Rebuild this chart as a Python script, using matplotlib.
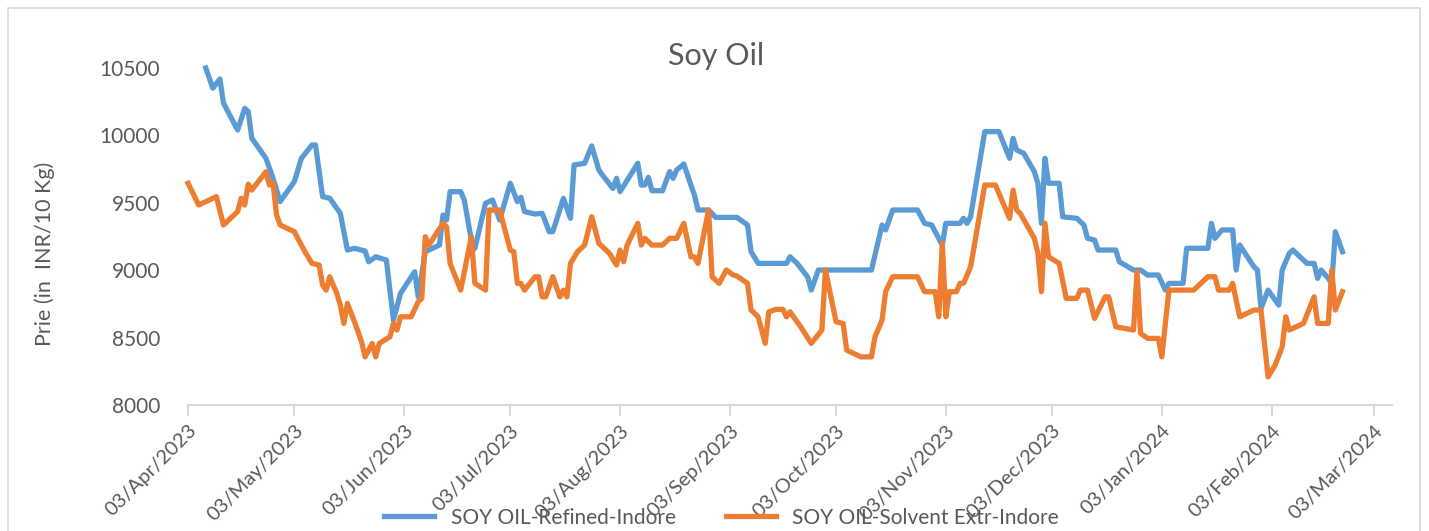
import matplotlib
matplotlib.use("Agg")
import matplotlib.pyplot as plt
import matplotlib.dates as mdates
from matplotlib.patches import Rectangle
import pandas as pd

plt.rcParams["font.family"] = ["Lato", "DejaVu Sans"]

REFINED_DATES = [
    "2023-04-08", "2023-04-10", "2023-04-12", "2023-04-13", "2023-04-17", "2023-04-19",
    "2023-04-20", "2023-04-21", "2023-04-25", "2023-04-27", "2023-04-29", "2023-05-03",
    "2023-05-05", "2023-05-08", "2023-05-09", "2023-05-11", "2023-05-13", "2023-05-16",
    "2023-05-18", "2023-05-20", "2023-05-23", "2023-05-24", "2023-05-26", "2023-05-29",
    "2023-05-31", "2023-06-02", "2023-06-06", "2023-06-07", "2023-06-09", "2023-06-13",
    "2023-06-14", "2023-06-15", "2023-06-16", "2023-06-19", "2023-06-20", "2023-06-22",
    "2023-06-23", "2023-06-26", "2023-06-27", "2023-06-28", "2023-06-30", "2023-07-03",
    "2023-07-05", "2023-07-06", "2023-07-07", "2023-07-10", "2023-07-12", "2023-07-14",
    "2023-07-15", "2023-07-18", "2023-07-20", "2023-07-21", "2023-07-24", "2023-07-26",
    "2023-07-28", "2023-07-29", "2023-08-01", "2023-08-02", "2023-08-03", "2023-08-08",
    "2023-08-09", "2023-08-10", "2023-08-11", "2023-08-12", "2023-08-15", "2023-08-17",
    "2023-08-18", "2023-08-19", "2023-08-21", "2023-08-23", "2023-08-24", "2023-08-25",
    "2023-08-28", "2023-08-30", "2023-09-05", "2023-09-08", "2023-09-09", "2023-09-11",
    "2023-09-19", "2023-09-20", "2023-09-22", "2023-09-25", "2023-09-26", "2023-09-28",
    "2023-10-13", "2023-10-16", "2023-10-17", "2023-10-19", "2023-10-26", "2023-10-28",
    "2023-10-30", "2023-11-02", "2023-11-03", "2023-11-07", "2023-11-08", "2023-11-09",
    "2023-11-10", "2023-11-14", "2023-11-18", "2023-11-21", "2023-11-22", "2023-11-23",
    "2023-11-25", "2023-11-28", "2023-11-29", "2023-11-30", "2023-12-01", "2023-12-02",
    "2023-12-05", "2023-12-06", "2023-12-10", "2023-12-12", "2023-12-13", "2023-12-15",
    "2023-12-16", "2023-12-21", "2023-12-22", "2023-12-26", "2023-12-28", "2023-12-30",
    "2024-01-02", "2024-01-04", "2024-01-05", "2024-01-09", "2024-01-10", "2024-01-16",
    "2024-01-17", "2024-01-18", "2024-01-20", "2024-01-23", "2024-01-24", "2024-01-25",
    "2024-01-29", "2024-01-30", "2024-01-31", "2024-02-02", "2024-02-05", "2024-02-06",
    "2024-02-08", "2024-02-09", "2024-02-13", "2024-02-15", "2024-02-16", "2024-02-17",
    "2024-02-19", "2024-02-20", "2024-02-21", "2024-02-23",
]
REFINED = [
    10500, 10350, 10419, 10239, 10040, 10201,
    10176, 9979, 9830, 9682, 9509, 9657,
    9830, 9929, 9929, 9546, 9534, 9422,
    9150, 9163, 9143, 9063, 9100, 9076,
    8631, 8829, 8989, 8803, 9138, 9187,
    9410, 9373, 9583, 9583, 9521, 9224,
    9163, 9496, 9509, 9521, 9373, 9645,
    9509, 9541, 9435, 9417, 9422, 9286,
    9286, 9533, 9385, 9781, 9793, 9922,
    9744, 9707, 9607, 9682, 9583, 9793,
    9632, 9632, 9689, 9590, 9590, 9732,
    9682, 9744, 9788, 9632, 9558, 9447,
    9447, 9392, 9392, 9336, 9138, 9051,
    9051, 9100, 9051, 8950, 8853, 9002,
    9002, 9336, 9299, 9447, 9447, 9348,
    9336, 9187, 9348, 9348, 9385, 9348,
    9397, 10028, 10028, 9830, 9978, 9892,
    9867, 9731, 9645, 9348, 9830, 9645,
    9645, 9397, 9385, 9336, 9237, 9224,
    9150, 9150, 9063, 9002, 9002, 8965,
    8965, 8853, 8903, 8903, 9163, 9163,
    9348, 9237, 9299, 9299, 9002, 9187,
    9026, 9002, 8717, 8853, 8742, 9002,
    9126, 9150, 9051, 9051, 8940, 9002,
    8940, 8903, 9286, 9138,
]

SOLVENT_DATES = [
    "2023-04-03", "2023-04-06", "2023-04-11", "2023-04-13", "2023-04-17", "2023-04-18",
    "2023-04-19", "2023-04-20", "2023-04-21", "2023-04-25", "2023-04-26", "2023-04-27",
    "2023-04-28", "2023-04-29", "2023-05-03", "2023-05-06", "2023-05-08", "2023-05-10",
    "2023-05-11", "2023-05-12", "2023-05-13", "2023-05-15", "2023-05-16", "2023-05-17",
    "2023-05-18", "2023-05-20", "2023-05-22", "2023-05-23", "2023-05-25", "2023-05-26",
    "2023-05-27", "2023-05-30", "2023-05-31", "2023-06-01", "2023-06-02", "2023-06-05",
    "2023-06-07", "2023-06-08", "2023-06-09", "2023-06-10", "2023-06-14", "2023-06-15",
    "2023-06-16", "2023-06-19", "2023-06-22", "2023-06-23", "2023-06-26", "2023-06-27",
    "2023-06-30", "2023-07-03", "2023-07-04", "2023-07-05", "2023-07-06", "2023-07-07",
    "2023-07-10", "2023-07-11", "2023-07-12", "2023-07-13", "2023-07-15", "2023-07-17",
    "2023-07-18", "2023-07-19", "2023-07-20", "2023-07-22", "2023-07-24", "2023-07-26",
    "2023-07-28", "2023-07-29", "2023-07-31", "2023-08-02", "2023-08-03", "2023-08-04",
    "2023-08-05", "2023-08-08", "2023-08-09", "2023-08-10", "2023-08-12", "2023-08-15",
    "2023-08-17", "2023-08-19", "2023-08-21", "2023-08-23", "2023-08-24", "2023-08-25",
    "2023-08-28", "2023-08-29", "2023-08-31", "2023-09-02", "2023-09-04", "2023-09-05",
    "2023-09-08", "2023-09-09", "2023-09-11", "2023-09-13", "2023-09-14", "2023-09-16",
    "2023-09-18", "2023-09-19", "2023-09-20", "2023-09-23", "2023-09-26", "2023-09-29",
    "2023-09-30", "2023-10-03", "2023-10-05", "2023-10-06", "2023-10-10", "2023-10-13",
    "2023-10-14", "2023-10-16", "2023-10-17", "2023-10-19", "2023-10-26", "2023-10-28",
    "2023-10-31", "2023-11-01", "2023-11-02", "2023-11-03", "2023-11-04", "2023-11-06",
    "2023-11-07", "2023-11-08", "2023-11-10", "2023-11-14", "2023-11-17", "2023-11-21",
    "2023-11-22", "2023-11-23", "2023-11-24", "2023-11-28", "2023-11-29", "2023-11-30",
    "2023-12-01", "2023-12-02", "2023-12-05", "2023-12-07", "2023-12-10", "2023-12-11",
    "2023-12-13", "2023-12-15", "2023-12-18", "2023-12-19", "2023-12-21", "2023-12-26",
    "2023-12-27", "2023-12-28", "2023-12-30", "2024-01-02", "2024-01-03", "2024-01-05",
    "2024-01-12", "2024-01-16", "2024-01-18", "2024-01-19", "2024-01-22", "2024-01-23",
    "2024-01-25", "2024-01-29", "2024-01-31", "2024-02-02", "2024-02-04", "2024-02-06",
    "2024-02-07", "2024-02-08", "2024-02-12", "2024-02-15", "2024-02-16", "2024-02-19",
    "2024-02-20", "2024-02-21", "2024-02-23",
]
SOLVENT = [
    9645, 9484, 9546, 9336, 9435, 9534,
    9484, 9638, 9595, 9731, 9632, 9645,
    9410, 9336, 9286, 9138, 9051, 9039,
    8890, 8853, 8952, 8829, 8742, 8606,
    8754, 8618, 8470, 8358, 8458, 8358,
    8458, 8507, 8606, 8557, 8655, 8655,
    8767, 8792, 9249, 9187, 9348, 9323,
    9051, 8853, 9249, 8903, 8853, 9447,
    9447, 9150, 9138, 8903, 8903, 8853,
    8952, 8952, 8803, 8803, 8952, 8803,
    8853, 8803, 9051, 9138, 9187, 9397,
    9200, 9175, 9126, 9039, 9150, 9063,
    9187, 9348, 9187, 9237, 9187, 9187,
    9237, 9237, 9348, 9100, 9100, 9051,
    9447, 8952, 8903, 9002, 8965, 8957,
    8903, 8705, 8655, 8458, 8692, 8710,
    8710, 8655, 8692, 8581, 8458, 8557,
    9002, 8618, 8606, 8408, 8358, 8358,
    8507, 8631, 8841, 8952, 8952, 8841,
    8841, 8655, 9200, 8655, 8841, 8841,
    8903, 8903, 9026, 9632, 9632, 9385,
    9595, 9447, 9422, 9237, 9126, 8841,
    9348, 9100, 9051, 8792, 8792, 8853,
    8853, 8643, 8803, 8803, 8581, 8557,
    8989, 8532, 8495, 8495, 8358, 8853,
    8853, 8952, 8952, 8853, 8853, 8903,
    8655, 8705, 8705, 8210, 8297, 8433,
    8655, 8557, 8606, 8803, 8606, 8606,
    9002, 8705, 8841,
]

BLUE = "#5B9BD5"
ORANGE = "#ED7D31"
GREY_TEXT = "#595959"
GREY_LINE = "#D9D9D9"

fig = plt.figure(figsize=(14.29, 5.31), dpi=100)
ax = fig.add_axes([0.1316, 0.237, 0.9741 - 0.1316, 0.872 - 0.237])

ax.plot(pd.to_datetime(REFINED_DATES), REFINED, color=BLUE, linewidth=3.8,
        solid_joinstyle="round", clip_on=False, label="SOY OIL-Refined-Indore")
ax.plot(pd.to_datetime(SOLVENT_DATES), SOLVENT, color=ORANGE, linewidth=3.8,
        solid_joinstyle="round", clip_on=False, label="SOY OIL-Solvent Extr-Indore")

ax.set_xlim(pd.Timestamp("2023-04-03"), pd.Timestamp("2024-03-08"))
ax.set_ylim(8000, 10500)
ax.set_yticks([8000, 8500, 9000, 9500, 10000, 10500])

ax.xaxis.set_major_locator(mdates.MonthLocator(bymonthday=3))
ax.xaxis.set_major_formatter(mdates.DateFormatter("%d/%b/%Y"))
for lbl in ax.get_xticklabels():
    lbl.set_rotation(45)
    lbl.set_ha("right")
    lbl.set_rotation_mode("anchor")

for side in ("top", "right", "left"):
    ax.spines[side].set_visible(False)
ax.spines["bottom"].set_color(GREY_LINE)
ax.spines["bottom"].set_linewidth(1.5)
ax.tick_params(axis="x", colors=GREY_TEXT, labelsize=14.5, length=8, width=1.5,
               color=GREY_LINE, direction="out", pad=4)
ax.tick_params(axis="y", colors=GREY_TEXT, labelsize=15, length=0, pad=20)

# y label sits a little below the axis centre in the original
fig.text(45 / 1429, 1 - 254 / 531, "Prie (in  INR/10 Kg)", rotation=90,
         ha="center", va="center", fontsize=15.5, color=GREY_TEXT)
fig.text(0.501, 0.895, "Soy Oil", ha="center", va="center", fontsize=22, color=GREY_TEXT)

fig.legend(loc="center", bbox_to_anchor=(0.505, 0.025), ncol=2, frameon=False,
           fontsize=15, handlelength=2.4, columnspacing=2.4, labelcolor=GREY_TEXT)

fig.patches.append(Rectangle((0.0056, -0.05), 0.988, 1.035, transform=fig.transFigure,
                             fill=False, edgecolor=GREY_LINE, linewidth=1.2))

fig.savefig("out.png", dpi=100)
